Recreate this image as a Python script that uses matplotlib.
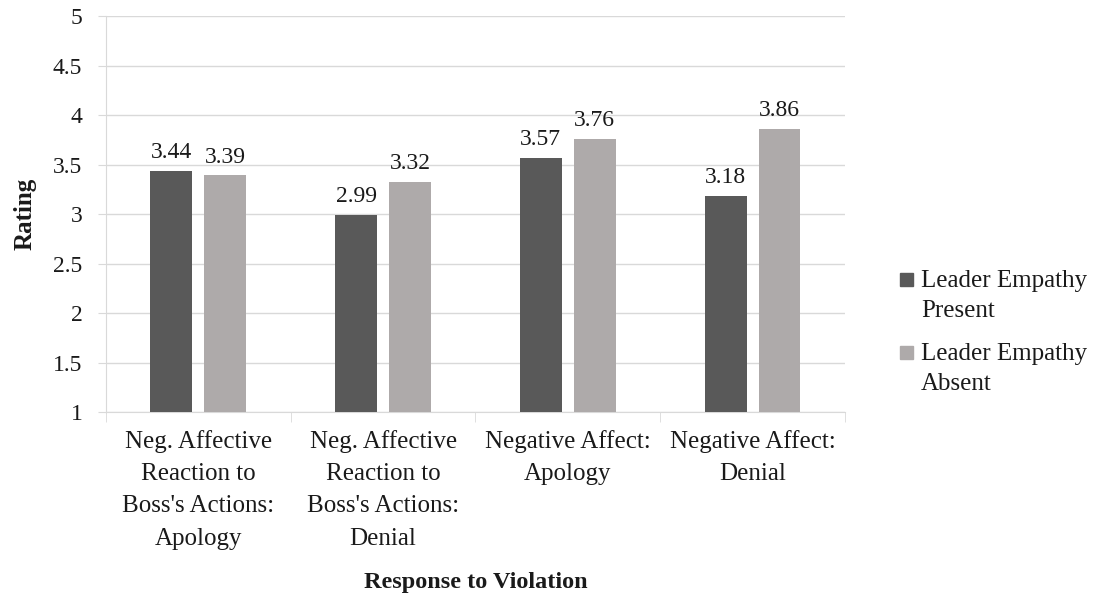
import matplotlib
matplotlib.use("Agg")
import matplotlib.pyplot as plt
from matplotlib.patches import Rectangle
import numpy as np

categories = [
    "Neg. Affective\nReaction to\nBoss's Actions:\nApology",
    "Neg. Affective\nReaction to\nBoss's Actions:\nDenial",
    "Negative Affect:\nApology",
    "Negative Affect:\nDenial",
]
series_names = ["Leader Empathy\nPresent", "Leader Empathy\nAbsent"]
present = [3.44, 2.99, 3.57, 3.18]
absent = [3.39, 3.32, 3.76, 3.86]
y_ticks = [1, 1.5, 2, 2.5, 3, 3.5, 4, 4.5, 5]
y_tick_labels = ["1", "1.5", "2", "2.5", "3", "3.5", "4", "4.5", "5"]

plt.rcParams["font.family"] = ["Liberation Serif", "DejaVu Serif"]
TXT = "#1a1a1a"
GRID = "#d9d9d9"

fig = plt.figure(figsize=(10.98, 5.98), dpi=100)
ax = fig.add_axes([0.0965, 0.311, 0.673, 0.662])

x = np.arange(len(categories))
w = 0.227
off = 0.146
colors = ["#595959", "#aeaaaa"]
base = 1
for vals, sign, col in [(present, -1, colors[0]), (absent, 1, colors[1])]:
    v = np.array(vals)
    ax.bar(x + sign * off, v - base, w, bottom=base, color=col, zorder=3)
    for xi, val in zip(x + sign * off, v):
        ax.text(xi, val + 0.08, f"{val:.2f}", ha="center", va="bottom",
                fontsize=17, color=TXT)

ax.set_xlim(-0.5, len(categories) - 0.5)
ax.set_ylim(1, 5)
ax.set_yticks(y_ticks)
ax.set_yticklabels(y_tick_labels, fontsize=17, color=TXT)
ax.yaxis.grid(True, color=GRID, linewidth=1, zorder=0)
ax.tick_params(axis="y", length=6, color=GRID, pad=11)

# category labels centred under each group, tick marks on group boundaries
ax.set_xticks(x)
ax.set_xticklabels(categories, fontsize=18, color=TXT, linespacing=1.6)
ax.tick_params(axis="x", length=0, pad=13)
ax.set_xticks(np.arange(-0.5, len(categories)), minor=True)
ax.tick_params(axis="x", which="minor", length=7, color=GRID)

for s in ["top", "right"]:
    ax.spines[s].set_visible(False)
ax.spines["left"].set_color(GRID)
ax.spines["bottom"].set_color(GRID)

ax.set_ylabel("Rating", fontsize=18, fontweight="bold", labelpad=12, color=TXT)
ax.set_xlabel("Response to Violation", fontsize=17.5, fontweight="bold",
              labelpad=16, color=TXT)

# legend: square markers aligned with the first line of each entry
W, H = 1098.0, 598.0
first_baselines = [287, 360]
line_gap = 30
for name, col, yb in zip(series_names, colors, first_baselines):
    fig.patches.append(Rectangle((900 / W, 1 - (yb - 1) / H), 13 / W, 13 / H,
                                 transform=fig.transFigure, color=col))
    # baseline alignment of multi-line text anchors the last line
    fig.text(921 / W, 1 - (yb + line_gap) / H, name, fontsize=18, color=TXT,
             ha="left", va="baseline", linespacing=1.45)

fig.savefig("out.png", dpi=100)
